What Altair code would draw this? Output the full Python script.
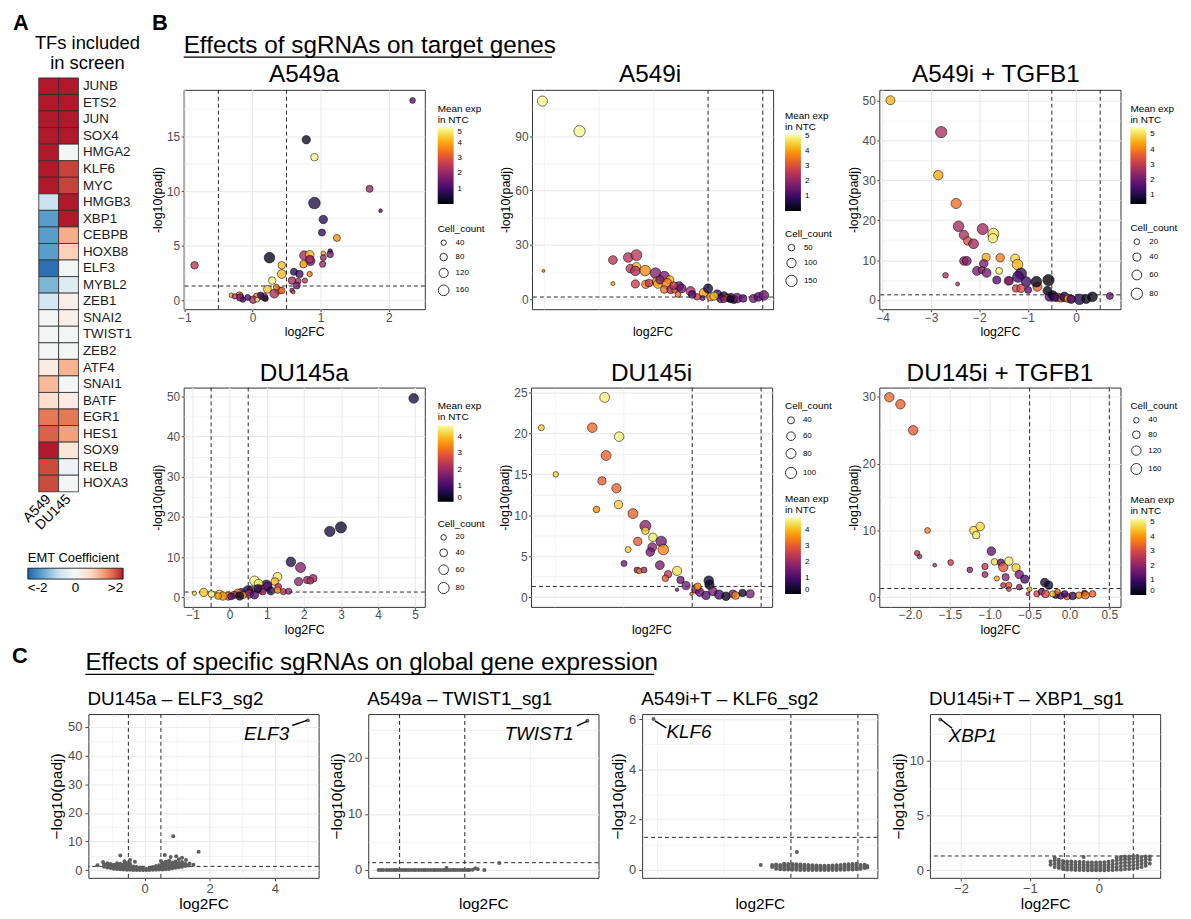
import json
import altair as alt
import pandas as pd

DEBUG = False
FONT = "Liberation Sans"
AX_TXT = "#4D4D4D"
GRID = "#EBEBEB"
DASH = [4, 3]

# ---------------- Panel A data ----------------
tf_genes = ["JUNB", "ETS2", "JUN", "SOX4", "HMGA2", "KLF6", "MYC", "HMGB3", "XBP1", "CEBPB",
            "HOXB8", "ELF3", "MYBL2", "ZEB1", "SNAI2", "TWIST1", "ZEB2", "ATF4", "SNAI1", "BATF",
            "EGR1", "HES1", "SOX9", "RELB", "HOXA3"]
emt_a549 = [2, 2, 2, 2, 2, 2, 2, -0.7, -1.45, -1.45, -1.45, -1.9, -1.2, -0.6, -0.05, -0.05, -0.05,
            0.25, 0.95, 0.55, 1.45, 1.6, 2.0, 1.75, 1.75]
emt_du145 = [2, 2, 2, 2, -0.05, 1.8, 1.8, 2, 2, 1.05, 0.75, -0.05, -0.45, 0.2, 0.2, -0.05, -0.05,
             1.0, -0.05, 0.25, 1.45, 1.15, 0.4, -0.2, -0.05]
cell_lines = ["A549", "DU145"]
emt_stops = [-2, -1.333, -0.667, 0, 0.667, 1.333, 2]
emt_colors = ["#2166AC", "#67A9CF", "#D1E5F0", "#F7F7F7", "#FDDBC7", "#EF8A62", "#B2182B"]

# ---------------- Panel B data (log2FC, -log10 padj, mean exp in NTC, cell count) ----------------
a549a = [(2.35, 18.3, 1.3, 45), (0.79, 14.7, 0.3, 100), (0.91, 13.1, 4.9, 80), (1.72, 10.2, 2.0, 70),
         (1.88, 8.2, 1.2, 20), (0.91, 8.9, 0.6, 190), (1.04, 7.4, 0.7, 100), (1.02, 6.2, 0.8, 70),
         (1.24, 5.7, 3.8, 70), (1.14, 4.5, 1.0, 30), (1.14, 4.2, 1.6, 65), (1.04, 4.3, 4.0, 30),
         (1.04, 3.9, 2.0, 50), (1.03, 3.3, 2.0, 55), (0.76, 4.1, 2.2, 120), (0.84, 4.15, 4.2, 110),
         (0.85, 3.6, 1.5, 120), (0.84, 3.75, 2.3, 90), (0.75, 3.3, 3.8, 80), (-0.85, 3.2, 2.5, 80),
         (0.25, 3.9, 0.2, 160), (0.43, 3.2, 4.3, 80), (0.43, 2.4, 4.2, 110), (0.61, 2.6, 0.7, 70),
         (0.69, 2.4, 1.0, 80), (0.84, 2.4, 3.5, 40), (0.67, 1.75, 2.3, 50), (0.58, 1.8, 2.2, 80),
         (0.77, 1.8, 2.5, 40), (0.65, 1.35, 1.5, 70), (0.58, 0.9, 1.8, 30), (0.60, 0.75, 3.0, 20),
         (0.29, 1.8, 4.8, 80), (0.22, 1.0, 4.3, 90), (0.39, 0.9, 3.5, 80), (0.32, 0.6, 2.2, 110),
         (0.43, 0.9, 3.3, 60), (0.07, 0.3, 3.6, 90), (0.17, 0.3, 1.8, 80), (0.01, 0.05, 2.3, 80),
         (-0.07, 0.25, 1.0, 50), (-0.19, 0.45, 3.3, 70), (-0.18, 0.25, 1.5, 80), (-0.31, 0.45, 4.0, 30),
         (-0.26, 0.35, 2.5, 40), (0.12, 0.45, 1.0, 60), (0.07, 0.05, 5.0, 30), (0.19, 0.15, 0.5, 50),
         (0.35, 1.2, 3.5, 50), (-0.14, 0.05, 1.2, 40)]
a549i = [(-3.53, 109.3, 5.0, 120), (-2.85, 92.7, 5.0, 150), (-3.51, 15.7, 3.6, 10), (-2.24, 21.7, 2.5, 90),
         (-2.24, 8.7, 4.0, 20), (-1.96, 23.1, 2.4, 110), (-1.81, 24.4, 2.5, 140), (-1.92, 17.0, 2.5, 90),
         (-1.81, 18.1, 4.3, 80), (-1.83, 15.7, 2.3, 110), (-1.65, 15.9, 3.8, 130), (-1.83, 8.5, 2.7, 80),
         (-1.64, 8.3, 3.6, 80), (-1.46, 14.5, 1.8, 130), (-1.30, 12.7, 1.7, 120), (-1.44, 9.9, 3.7, 90),
         (-1.42, 8.5, 4.2, 90), (-1.20, 10.8, 4.2, 80), (-1.25, 8.7, 3.6, 120), (-1.30, 5.4, 3.5, 70),
         (-1.18, 5.4, 2.2, 80), (-1.11, 5.1, 3.3, 40), (-1.03, 7.2, 1.3, 100), (-0.98, 6.0, 1.5, 90),
         (-1.05, 2.7, 3.4, 40), (-0.82, 4.5, 2.2, 100), (-0.70, 1.4, 2.8, 50), (-0.58, 3.6, 4.0, 90),
         (-0.50, 6.0, 0.5, 100), (-0.45, 1.4, 3.8, 80), (-0.60, 0.7, 1.5, 30), (-0.33, 2.7, 1.0, 100),
         (-0.21, 1.8, 0.5, 90), (-0.27, 0.5, 1.3, 80), (-0.12, 0.9, 1.1, 70), (-0.03, 0.0, 0.2, 80),
         (0.03, 0.7, 1.5, 110), (0.14, 0.5, 1.3, 70), (0.33, 0.5, 1.6, 80), (0.42, 1.4, 1.2, 90),
         (0.52, 2.2, 1.5, 110), (-0.16, 0.9, 3.7, 40), (-0.39, 1.8, 4.4, 80), (-0.21, 0.0, 2.0, 50),
         (-0.08, 1.4, 1.6, 60), (-0.09, 0.1, 0.3, 60), (-0.79, 2.7, 1.2, 70), (-1.58, 9.0, 2.6, 70),
         (-1.38, 10.8, 1.9, 80), (-1.13, 7.6, 2.6, 70)]
a549it = [(-3.84, 50.1, 4.6, 50), (-2.79, 42.1, 2.7, 80), (-2.85, 31.3, 4.5, 55), (-2.48, 24.2, 3.8, 65),
          (-2.43, 18.5, 2.6, 70), (-2.32, 16.3, 2.7, 55), (-2.24, 14.8, 3.4, 45), (-2.12, 14.1, 2.6, 60),
          (-1.93, 17.8, 2.6, 75), (-1.71, 16.6, 5.0, 75), (-1.72, 15.5, 5.3, 55), (-2.32, 9.8, 2.5, 45),
          (-2.26, 9.8, 2.2, 50), (-1.86, 10.7, 4.5, 40), (-1.57, 10.6, 4.0, 45), (-1.91, 9.1, 2.1, 45),
          (-2.05, 7.3, 2.0, 50), (-1.95, 7.5, 2.5, 30), (-1.85, 6.8, 2.0, 50), (-1.59, 7.3, 5.2, 30),
          (-1.64, 5.0, 1.6, 40), (-2.70, 6.2, 2.8, 20), (-2.45, 4.0, 2.8, 10), (-1.40, 4.8, 3.2, 45),
          (-1.38, 4.8, 2.0, 40), (-1.26, 10.4, 4.9, 50), (-1.21, 8.9, 4.6, 70), (-1.14, 6.6, 1.2, 80),
          (-1.20, 5.8, 1.4, 75), (-1.03, 4.6, 1.4, 60), (-1.24, 2.9, 3.2, 35), (-1.14, 2.9, 3.3, 40),
          (-0.99, 2.5, 1.7, 30), (-0.80, 3.3, 3.6, 50), (-0.82, 4.6, 0.6, 70), (-0.57, 5.0, 0.4, 80),
          (-0.59, 2.3, 0.5, 50), (-0.55, 0.8, 1.5, 50), (-0.48, 1.2, 0.6, 50), (-0.38, 0.7, 3.0, 45),
          (-0.31, 0.5, 3.5, 40), (-0.24, 0.8, 1.0, 55), (-0.17, 0.3, 4.4, 35), (-0.09, 0.3, 3.8, 30),
          (0.07, 0.17, 1.0, 70), (0.21, 0.25, 0.6, 50), (0.34, 0.8, 0.6, 60), (0.70, 1.0, 1.8, 30),
          (-0.10, 0.2, 1.4, 45), (-0.44, 0.7, 1.2, 45)]
du145a = [(4.96, 49.5, 0.5, 60), (3.0, 17.4, 0.4, 80), (2.7, 16.4, 0.5, 70), (1.65, 8.8, 0.6, 60),
          (1.91, 7.4, 1.7, 65), (1.86, 3.9, 1.8, 45), (2.09, 4.3, 2.0, 35), (2.25, 4.7, 2.0, 40),
          (2.17, 4.1, 2.2, 30), (1.29, 5.1, 4.4, 50), (1.22, 3.9, 4.0, 40), (1.31, 2.6, 2.3, 30),
          (0.99, 3.0, 0.5, 70), (1.02, 2.6, 1.3, 50), (0.67, 4.1, 4.6, 60), (0.78, 3.4, 4.5, 50),
          (0.83, 2.0, 2.0, 45), (0.58, 1.8, 2.3, 45), (0.49, 1.6, 0.5, 70), (0.31, 1.1, 1.0, 50),
          (0.22, 1.0, 3.5, 45), (0.12, 0.6, 2.0, 35), (-0.04, 0.3, 3.0, 45), (-0.27, 0.8, 4.3, 40),
          (-0.49, 0.8, 4.5, 30), (-0.70, 1.2, 4.1, 45), (-0.95, 1.0, 4.3, 12), (-0.18, 0.3, 3.7, 45),
          (0.04, 0.2, 1.2, 30), (0.53, 0.8, 2.0, 45), (0.67, 0.6, 1.0, 45), (1.45, 1.4, 2.3, 25),
          (1.59, 1.5, 1.8, 25), (1.11, 1.6, 0.6, 45), (0.89, 1.4, 2.0, 30), (0.36, 0.5, 4.0, 30),
          (0.27, 0.3, 0.3, 45), (-0.31, 0.3, 3.8, 30), (0.76, 2.2, 0.6, 40), (1.29, 1.8, 3.5, 30)]
du145i = [(-1.77, 24.4, 4.6, 80), (-2.69, 20.7, 4.2, 30), (-1.95, 20.7, 3.2, 75), (-1.56, 19.6, 4.6, 75),
          (-1.75, 17.3, 3.1, 80), (-2.48, 15.0, 4.2, 25), (-1.81, 14.2, 3.0, 55), (-1.60, 13.3, 3.1, 70),
          (-1.57, 11.3, 4.2, 55), (-1.89, 10.7, 3.6, 35), (-1.36, 10.2, 3.1, 80), (-1.18, 8.7, 1.8, 100),
          (-1.18, 8.1, 4.3, 45), (-1.07, 7.3, 4.5, 60), (-0.95, 6.8, 1.5, 90), (-1.08, 6.1, 1.8, 65),
          (-0.92, 5.8, 3.5, 90), (-1.29, 6.8, 3.0, 55), (-1.43, 5.8, 4.2, 30), (-1.11, 5.5, 1.5, 60),
          (-1.49, 4.1, 1.5, 30), (-1.30, 3.3, 1.8, 30), (-1.27, 3.2, 3.5, 25), (-1.20, 3.3, 2.0, 30),
          (-0.97, 3.9, 1.6, 65), (-0.85, 2.8, 2.4, 45), (-0.72, 3.2, 4.4, 70), (-0.89, 2.3, 3.0, 35),
          (-0.67, 2.1, 1.4, 45), (-0.59, 1.4, 1.5, 55), (-0.72, 0.9, 1.4, 10), (-0.44, 1.0, 1.6, 70),
          (-0.26, 2.0, 0.4, 75), (-0.25, 1.5, 0.3, 70), (-0.39, 0.6, 1.4, 60), (-0.20, 0.7, 1.6, 60),
          (-0.11, 0.3, 1.0, 70), (-0.01, 0.1, 0.2, 60), (0.09, 0.4, 1.5, 50), (0.13, 0.2, 3.5, 50),
          (0.34, 0.4, 1.6, 55), (0.23, 0.5, 0.3, 45), (-0.51, 0.4, 3.2, 10), (-0.30, 0.2, 1.2, 55),
          (-0.42, 1.3, 3.8, 40)]
du145it = [(-2.26, 29.95, 3.5, 120), (-2.12, 28.9, 3.4, 120), (-1.96, 25.0, 3.3, 120), (-1.78, 10.0, 3.8, 45),
           (-1.20, 10.0, 4.8, 90), (-1.12, 10.6, 4.7, 100), (-1.17, 9.3, 5.0, 80), (-1.91, 6.6, 2.6, 40),
           (-1.88, 6.1, 2.2, 30), (-1.69, 4.8, 2.5, 20), (-1.49, 5.2, 2.8, 45), (-1.25, 4.1, 2.0, 45),
           (-1.06, 4.6, 2.7, 55), (-1.06, 3.4, 2.3, 50), (-0.98, 6.9, 1.5, 100), (-0.94, 5.3, 4.8, 60),
           (-0.86, 5.2, 1.3, 70), (-0.83, 4.5, 3.2, 120), (-0.76, 5.4, 5.0, 90), (-0.67, 4.4, 4.6, 90),
           (-0.63, 3.4, 1.7, 100), (-0.56, 2.7, 1.1, 90), (-0.80, 3.0, 2.0, 70), (-0.91, 2.8, 4.2, 35),
           (-0.83, 1.8, 2.5, 40), (-0.76, 1.8, 3.2, 50), (-0.76, 1.2, 2.8, 30), (-0.63, 1.5, 2.0, 45),
           (-0.50, 1.2, 4.5, 30), (-0.52, 0.5, 2.5, 20), (-0.31, 2.2, 0.5, 100), (-0.26, 1.8, 0.4, 90),
           (-0.41, 0.5, 3.0, 50), (-0.35, 0.8, 1.5, 60), (-0.30, 0.5, 2.9, 80), (-0.17, 0.35, 0.5, 70),
           (-0.11, 0.2, 1.2, 60), (-0.03, 0.1, 3.2, 60), (0.04, 0.2, 0.8, 80), (0.12, 0.3, 3.8, 60),
           (0.19, 0.6, 0.4, 50), (0.20, 0.3, 3.7, 80), (0.29, 0.5, 3.3, 60), (-0.21, 0.5, 4.6, 50),
           (-0.06, 0.5, 1.0, 60), (-0.15, 0.8, 3.6, 45)]

# ---------------- Panel C data (log2FC, -log10 padj) ----------------
c1_pts = [(5.02, 52.3), (0.88, 11.8), (1.66, 6.4), (-0.75, 5.1), (0.62, 5.3), (0.80, 4.6), (0.97, 4.8),
          (1.15, 4.3), (1.27, 3.5), (-0.45, 3.5), (-0.62, 3.1), (-1.28, 2.8), (-1.45, 1.7), (1.38, 2.3),
          (1.50, 1.9), (-0.30, 2.9), (0.50, 3.2), (1.05, 3.8),
          (-1.25, 1.2), (-1.25, 2.0), (-1.15, 0.9), (-1.15, 1.7), (-1.15, 2.4), (-1.05, 0.7), (-1.05, 1.4),
          (-1.05, 2.1), (-0.95, 0.5), (-0.95, 1.2), (-0.95, 1.9), (-0.85, 0.4), (-0.85, 1.0), (-0.85, 1.7),
          (-0.85, 2.4), (-0.75, 0.3), (-0.75, 0.9), (-0.75, 1.5), (-0.75, 2.2), (-0.65, 0.2), (-0.65, 0.7),
          (-0.65, 1.3), (-0.65, 2.0), (-0.55, 0.1), (-0.55, 0.6), (-0.55, 1.2), (-0.55, 1.8), (-0.55, 2.5),
          (-0.45, 0.1), (-0.45, 0.5), (-0.45, 1.0), (-0.45, 1.6), (-0.45, 2.2), (-0.35, 0.0), (-0.35, 0.4),
          (-0.35, 0.9), (-0.35, 1.3), (-0.25, 0.0), (-0.25, 0.3), (-0.25, 0.7), (-0.25, 1.1), (-0.15, 0.0),
          (-0.15, 0.3), (-0.15, 0.6), (-0.15, 0.9), (-0.05, 0.0), (-0.05, 0.2), (-0.05, 0.5), (0.05, 0.0),
          (0.05, 0.2), (0.05, 0.5), (0.15, 0.0), (0.15, 0.3), (0.15, 0.6), (0.25, 0.1), (0.25, 0.4),
          (0.25, 0.8), (0.25, 1.1), (0.35, 0.1), (0.35, 0.5), (0.35, 0.9), (0.35, 1.4), (0.45, 0.2),
          (0.45, 0.6), (0.45, 1.1), (0.45, 1.7), (0.55, 0.2), (0.55, 0.7), (0.55, 1.3), (0.55, 1.9),
          (0.55, 2.5), (0.65, 0.3), (0.65, 0.9), (0.65, 1.5), (0.65, 2.2), (0.65, 2.9), (0.75, 0.4),
          (0.75, 1.0), (0.75, 1.7), (0.75, 2.5), (0.75, 3.3), (0.85, 0.6), (0.85, 1.2), (0.85, 1.9),
          (0.85, 2.7), (0.95, 0.8), (0.95, 1.5), (0.95, 2.2), (0.95, 3.0), (1.05, 1.0), (1.05, 1.7),
          (1.05, 2.5), (1.15, 1.2), (1.15, 2.0), (1.15, 2.8), (1.25, 1.4), (1.25, 2.2), (1.35, 1.6)]
c2_pts = [(2.38, 26.6), (1.03, 1.25), (0.22, 0.35), (0.66, 0.3), (0.70, 0.15), (0.80, 0.0), (0.62, 0.05),
          (-0.82, 0.0), (-0.78, 0.0), (-0.75, 0.0), (-0.70, 0.0), (-0.66, 0.0), (-0.62, 0.0), (-0.58, 0.0),
          (-0.55, 0.0), (-0.51, 0.0), (-0.47, 0.0), (-0.43, 0.0), (-0.40, 0.0), (-0.36, 0.0), (-0.32, 0.0),
          (-0.28, 0.0), (-0.25, 0.0), (-0.21, 0.0), (-0.17, 0.0), (-0.13, 0.0), (-0.10, 0.0), (-0.06, 0.0),
          (-0.02, 0.0), (0.02, 0.0), (0.05, 0.0), (0.09, 0.0), (0.13, 0.0), (0.17, 0.0), (0.20, 0.0),
          (0.24, 0.0), (0.28, 0.0), (0.32, 0.0), (0.35, 0.0), (0.39, 0.0), (0.43, 0.0), (0.47, 0.0),
          (0.50, 0.0), (0.54, 0.0), (0.57, 0.0)]
c3_pts = [(-2.55, 6.0), (-0.95, 0.2), (-0.41, 0.72),
          (-0.78, 0.12), (-0.78, 0.2), (-0.72, 0.05), (-0.72, 0.14), (-0.72, 0.22), (-0.66, 0.03),
          (-0.66, 0.12), (-0.66, 0.2), (-0.60, 0.02), (-0.60, 0.1), (-0.60, 0.18), (-0.60, 0.25),
          (-0.54, 0.02), (-0.54, 0.1), (-0.54, 0.18), (-0.54, 0.24), (-0.48, 0.01), (-0.48, 0.09),
          (-0.48, 0.17), (-0.48, 0.24), (-0.42, 0.01), (-0.42, 0.08), (-0.42, 0.16), (-0.42, 0.23),
          (-0.36, 0.0), (-0.36, 0.08), (-0.36, 0.15), (-0.36, 0.22), (-0.30, 0.0), (-0.30, 0.07),
          (-0.30, 0.14), (-0.30, 0.21), (-0.24, 0.0), (-0.24, 0.06), (-0.24, 0.13), (-0.24, 0.2),
          (-0.18, 0.0), (-0.18, 0.06), (-0.18, 0.12), (-0.18, 0.19), (-0.12, 0.0), (-0.12, 0.05),
          (-0.12, 0.11), (-0.12, 0.18), (-0.06, 0.0), (-0.06, 0.05), (-0.06, 0.11), (-0.06, 0.17),
          (0.0, 0.0), (0.0, 0.05), (0.0, 0.1), (0.0, 0.17), (0.06, 0.0), (0.06, 0.05), (0.06, 0.11),
          (0.06, 0.17), (0.12, 0.0), (0.12, 0.06), (0.12, 0.12), (0.12, 0.18), (0.18, 0.0), (0.18, 0.06),
          (0.18, 0.12), (0.18, 0.19), (0.24, 0.01), (0.24, 0.07), (0.24, 0.13), (0.24, 0.2), (0.30, 0.01),
          (0.30, 0.08), (0.30, 0.15), (0.30, 0.22), (0.36, 0.02), (0.36, 0.09), (0.36, 0.16), (0.36, 0.23),
          (0.42, 0.02), (0.42, 0.1), (0.42, 0.17), (0.42, 0.24), (0.48, 0.03), (0.48, 0.1), (0.48, 0.18),
          (0.48, 0.25), (0.54, 0.05), (0.54, 0.12), (0.54, 0.2), (0.60, 0.08), (0.60, 0.15), (0.60, 0.21),
          (0.64, 0.1), (0.64, 0.16)]
c4_pts = [(-2.30, 13.8), (-0.70, 0.5), (-0.70, 0.8), (-0.64, 0.3), (-0.64, 0.6), (-0.64, 0.9), (-0.64, 1.15),
          (-0.58, 0.2), (-0.58, 0.45), (-0.58, 0.7), (-0.58, 0.95), (-0.52, 0.1), (-0.52, 0.35), (-0.52, 0.6),
          (-0.52, 0.85), (-0.46, 0.05), (-0.46, 0.3), (-0.46, 0.55), (-0.46, 0.8), (-0.40, 0.05), (-0.40, 0.3),
          (-0.40, 0.55), (-0.40, 0.8), (-0.34, 0.02), (-0.34, 0.25), (-0.34, 0.5), (-0.34, 0.75), (-0.28, 0.02),
          (-0.28, 0.25), (-0.28, 0.5), (-0.28, 0.75), (-0.22, 0.02), (-0.22, 0.25), (-0.22, 0.5), (-0.22, 0.75),
          (-0.22, 1.2), (-0.16, 0.0), (-0.16, 0.22), (-0.16, 0.45), (-0.16, 0.7), (-0.10, 0.0), (-0.10, 0.2),
          (-0.10, 0.45), (-0.10, 0.7), (-0.04, 0.0), (-0.04, 0.2), (-0.04, 0.45), (-0.04, 0.7), (0.02, 0.0),
          (0.02, 0.2), (0.02, 0.45), (0.02, 0.7), (0.08, 0.0), (0.08, 0.22), (0.08, 0.45), (0.08, 0.72),
          (0.14, 0.02), (0.14, 0.25), (0.14, 0.5), (0.14, 0.78), (0.20, 0.02), (0.20, 0.28), (0.20, 0.55),
          (0.20, 0.85), (0.26, 0.05), (0.26, 0.3), (0.26, 0.6), (0.26, 0.9), (0.26, 1.15), (0.32, 0.05),
          (0.32, 0.35), (0.32, 0.65), (0.32, 0.95), (0.32, 1.2), (0.38, 0.1), (0.38, 0.4), (0.38, 0.7),
          (0.38, 1.0), (0.38, 1.25), (0.44, 0.1), (0.44, 0.4), (0.44, 0.7), (0.44, 1.0), (0.44, 1.25),
          (0.50, 0.15), (0.50, 0.45), (0.50, 0.75), (0.50, 1.05), (0.50, 1.3), (0.56, 0.2), (0.56, 0.5),
          (0.56, 0.8), (0.56, 1.1), (0.56, 1.3), (0.62, 0.3), (0.62, 0.6), (0.62, 0.9), (0.62, 1.2),
          (0.68, 0.4), (0.68, 0.7), (0.68, 1.0), (0.68, 1.25), (0.74, 0.6), (0.74, 0.95), (0.74, 1.25)]

# gene labels: (text, label x, label y, seg start x, seg start y, seg end x, seg end y)
c1_lab = ("ELF3", 3.75, 47.4, 4.54, 50.5, 4.99, 52.3)
c2_lab = ("TWIST1", 1.64, 24.2, 2.22, 25.7, 2.37, 26.5)
c3_lab = ("KLF6", -2.02, 5.5, -2.53, 5.93, -2.36, 5.65)
c4_lab = ("XBP1", -1.83, 12.3, -2.29, 13.8, -2.13, 13.0)


def one():
    return pd.DataFrame({"k": [0]})


def box_layer(x1, x2, y1, y2):
    if DEBUG:
        m = alt.Chart(one()).mark_rect(fillOpacity=0, stroke="red", strokeWidth=1, strokeOpacity=0.7)
    else:
        m = alt.Chart(one()).mark_rect(opacity=0)
    return m.encode(x=alt.value(x1), x2=alt.value(x2), y=alt.value(y1), y2=alt.value(y2))


def text_layer(txt, x, y, size, align="left", weight="normal", style="normal", baseline="alphabetic"):
    return alt.Chart(one()).mark_text(
        text=txt, font=FONT, fontSize=size, align=align, baseline=baseline,
        fontWeight=weight, fontStyle=style, color="black").encode(x=alt.value(x), y=alt.value(y))


def uline_layer(x1, x2, y):
    return alt.Chart(one()).mark_rule(color="black", strokeWidth=1.3).encode(
        x=alt.value(x1), x2=alt.value(x2), y=alt.value(y))


def mk_axis(title, major, minor, fmt, lsize, tsize, tick, lpad, tpad):
    vals = sorted(major + minor)
    test = "indexof(%s, datum.value) < 0" % json.dumps(major)
    return alt.Axis(
        title=title, values=vals, format=fmt,
        labelExpr="(%s) ? '' : datum.label" % test,
        grid=True, gridColor=GRID,
        gridWidth={"condition": {"test": test, "value": 0.6}, "value": 1.2},
        tickOpacity={"condition": {"test": test, "value": 0}, "value": 1},
        tickSize=tick, tickColor="#333333", tickWidth=0.9, domain=False,
        labelFont=FONT, labelFontSize=lsize, labelColor=AX_TXT, labelPadding=lpad,
        titleFont=FONT, titleFontSize=tsize, titleFontWeight="normal", titleColor="black",
        titlePadding=tpad, labelFlush=False, labelOverlap=False, labelBound=False)


FRAME = alt.ViewBackground(stroke="#333333", strokeWidth=1)
NOFRAME = alt.ViewBackground(stroke="transparent")


def bplot(pts, xd, yd, xmaj, xmin, ymaj, ymin, xfmt, cdom, cvals, smax, amax, svals,
          fpos, spos, box, title=None):
    df = pd.DataFrame(pts, columns=["log2FC", "nlp", "exp", "cnt"])
    xs = alt.Scale(domain=xd, nice=False, zero=False)
    ys = alt.Scale(domain=yd, nice=False, zero=False)
    X = alt.X("log2FC:Q", scale=xs, axis=mk_axis("log2FC", xmaj, xmin, xfmt, 12, 12.5, 2.5, 0.5, 3))
    Y = alt.Y("nlp:Q", scale=ys, axis=mk_axis("-log10(padj)", ymaj, ymin, "d", 12, 12.5, 2.5, 1.5, 2))
    vl = alt.Chart(pd.DataFrame({"log2FC": [-0.5, 0.5]})).mark_rule(
        strokeDash=DASH, color="#111111", strokeWidth=0.9).encode(x=X)
    hl = alt.Chart(pd.DataFrame({"nlp": [1.3]})).mark_rule(
        strokeDash=DASH, color="#111111", strokeWidth=0.9).encode(y=Y)
    fill_leg = alt.Legend(
        title=["Mean exp", "in NTC"], orient="none", legendX=fpos[0], legendY=fpos[1],
        direction="vertical", gradientLength=77, gradientThickness=16, values=cvals,
        labelFont=FONT, labelFontSize=8, labelColor="black", labelOffset=4, labelOverlap=False,
        labelBaseline="middle", titleFont=FONT, titleFontSize=10, titleFontWeight="normal",
        titleColor="black", titleLineHeight=11, titlePadding=3, gradientStrokeWidth=0)
    size_leg = alt.Legend(
        title="Cell_count", orient="none", legendX=spos[0], legendY=spos[1], values=svals,
        symbolType="circle", symbolFillColor="white", symbolStrokeColor="black",
        symbolStrokeWidth=0.8, symbolOpacity=1, labelFont=FONT, labelFontSize=8, labelColor="black",
        labelOffset=6, rowPadding=4, titleFont=FONT, titleFontSize=10, titleFontWeight="normal",
        titleColor="black", titlePadding=5)
    pts_l = alt.Chart(df).mark_circle(
        stroke="black", strokeWidth=0.6, fillOpacity=0.78, strokeOpacity=0.9).encode(
        x=X, y=Y,
        fill=alt.Fill("exp:Q", scale=alt.Scale(scheme="inferno", domain=cdom, nice=False, zero=False),
                      legend=fill_leg),
        size=alt.Size("cnt:Q", scale=alt.Scale(domain=[0, smax], range=[0, amax]), legend=size_leg))
    layers = [vl, hl, pts_l, box_layer(*box)]
    if title:
        layers.append(text_layer(title, 121.5, -7, 24.5, align="center"))
    return alt.layer(*layers).properties(width=243, height=221, view=FRAME)


def cplot(pts, lab, xd, yd, xmaj, xmin, ymaj, ymin, title, box, width):
    df = pd.DataFrame(pts, columns=["log2FC", "nlp"])
    xs = alt.Scale(domain=xd, nice=False, zero=False)
    ys = alt.Scale(domain=yd, nice=False, zero=False)
    X = alt.X("log2FC:Q", scale=xs, axis=mk_axis("log2FC", xmaj, xmin, "d", 13, 15.5, 3, 2, 1))
    Y = alt.Y("nlp:Q", scale=ys, axis=mk_axis("\u2212log10(padj)", ymaj, ymin, "d", 13, 15.5, 3.5, 3, 3))
    vl = alt.Chart(pd.DataFrame({"log2FC": [-0.5, 0.5]})).mark_rule(
        strokeDash=DASH, color="#111111", strokeWidth=0.9).encode(x=X)
    hl = alt.Chart(pd.DataFrame({"nlp": [1.3]})).mark_rule(
        strokeDash=DASH, color="#111111", strokeWidth=0.9).encode(y=Y)
    dots = alt.Chart(df).mark_circle(color="#5E5E5E", opacity=1, size=16).encode(x=X, y=Y)
    seg_df = pd.DataFrame({"log2FC": [lab[3]], "nlp": [lab[4]], "fc_end": [lab[5]], "p_end": [lab[6]]})
    seg = alt.Chart(seg_df).mark_rule(color="black", strokeWidth=1.5).encode(
        x=X, y=Y, x2="fc_end:Q", y2="p_end:Q")
    lab_df = pd.DataFrame({"log2FC": [lab[1]], "nlp": [lab[2]], "gene": [lab[0]]})
    txt = alt.Chart(lab_df).mark_text(font=FONT, fontSize=19, fontStyle="italic", color="black",
                                      align="center", baseline="middle").encode(x=X, y=Y, text="gene:N")
    ttl = text_layer(title, -1, -9, 19)
    return alt.layer(vl, hl, dots, seg, txt, ttl, box_layer(*box)).properties(
        width=width, height=165, view=FRAME)


# ---------------- Panel A chart ----------------
heat_df = pd.DataFrame({
    "gene": tf_genes + tf_genes,
    "line": [cell_lines[0]] * len(tf_genes) + [cell_lines[1]] * len(tf_genes),
    "coef": emt_a549 + emt_du145,
})
heat = alt.Chart(heat_df).mark_rect(stroke="#2b2b2b", strokeWidth=0.8).encode(
    x=alt.X("line:N", sort=cell_lines, scale=alt.Scale(paddingInner=0, paddingOuter=0),
            axis=alt.Axis(title=None, labelAngle=315, labelAlign="right", labelBaseline="middle",
                          ticks=False, domain=False, labelFont=FONT, labelFontSize=14,
                          labelColor="black", labelPadding=5)),
    y=alt.Y("gene:N", sort=tf_genes, scale=alt.Scale(paddingInner=0, paddingOuter=0),
            axis=alt.Axis(title=None, orient="right", ticks=False, domain=False, labelFont=FONT,
                          labelFontSize=13.5, labelColor="#1a1a1a", labelPadding=4)),
    color=alt.Color("coef:Q", scale=alt.Scale(domain=emt_stops, range=emt_colors, clamp=True),
                    legend=alt.Legend(
                        title="EMT Coefficient", orient="none", legendX=-11, legendY=478,
                        direction="horizontal", gradientLength=96, gradientThickness=11,
                        values=[-2, 0, 2],
                        labelExpr="datum.value <= -2 ? '<-2' : (datum.value >= 2 ? '>2' : datum.label)",
                        labelFont=FONT, labelFontSize=13.5, labelColor="black", labelAlign="center",
                        labelOffset=2, labelOverlap=False, titleFont=FONT, titleFontSize=13,
                        titleFontWeight="normal", titleColor="black", titlePadding=3,
                        gradientStrokeColor="black", gradientStrokeWidth=0.8)))
acol = alt.layer(
    heat,
    text_layer("A", -26, -48, 22, weight="bold"),
    text_layer("TFs included", 49, -29, 18.5, align="center"),
    text_layer("in screen", 49, -9, 18.5, align="center"),
    box_layer(-30, 108, -66, 562),
).properties(width=40, height=417, view=NOFRAME)

# ---------------- Panel B charts ----------------
bsp = alt.layer(
    text_layer("B", -32, -48, 22, weight="bold"),
    text_layer("Effects of sgRNAs on target genes", 0, -25, 24.5),
    uline_layer(0, 371, -21),
    text_layer("A549a", 121.5, 4, 24.5, align="center"),
    text_layer("A549i", 470, 4, 24.5, align="center"),
    text_layer("A549i + TGFB1", 818.5, 4, 24.5, align="center"),
    box_layer(-36, 1000, -66, 9),
).properties(width=1, height=1, view=NOFRAME)

b1 = bplot(a549a, [-1.01, 2.53], [-0.82, 19.27], [-1, 0, 1, 2], [-0.5, 0.5, 1.5, 2.5],
           [0, 5, 10, 15], [2.5, 7.5, 12.5, 17.5], "d", [0, 5.0], [1, 2, 3, 4, 5],
           160, 115, [40, 80, 120, 160], (256, 14), (256, 135), (-36, 315, -1, 262))
b2 = bplot(a549i, [-3.72, 0.69], [-5.4, 115.5], [-3, -2, -1, 0], [-3.5, -2.5, -1.5, -0.5, 0.5],
           [0, 30, 60, 90], [15, 45, 75, 105], "d", [0, 5.1], [1, 2, 3, 4, 5],
           150, 130, [50, 100, 150], (255, 21), (255, 140), (-34, 314, -1, 262))
b3 = bplot(a549it, [-4.07, 0.92], [-2.3, 52.7], [-4, -3, -2, -1, 0], [-3.5, -2.5, -1.5, -0.5, 0.5],
           [0, 10, 20, 30, 40, 50], [5, 15, 25, 35, 45], "d", [0.4, 5.46], [1, 2, 3, 4, 5],
           80, 130, [20, 40, 60, 80], (253, 14), (253, 134), (-34, 303, -1, 262))
b4 = bplot(du145a, [-1.24, 5.26], [-2.4, 52.2], [-1, 0, 1, 2, 3, 4, 5], [-0.5, 0.5, 1.5, 2.5, 3.5, 4.5],
           [0, 10, 20, 30, 40, 50], [5, 15, 25, 35, 45], "d", [0, 4.75], [0, 1, 2, 3, 4],
           80, 125, [20, 40, 60, 80], (256, 14), (256, 132), (-36, 315, -36, 254), title="DU145a")
b5 = bplot(du145i, [-2.84, 0.66], [-1.2, 25.6], [-2, -1, 0], [-2.5, -1.5, -0.5, 0.5],
           [0, 5, 10, 15, 20, 25], [2.5, 7.5, 12.5, 17.5, 22.5], "d", [0, 4.8], [0, 1, 2, 3, 4],
           100, 125, [40, 60, 80, 100], (256, 107), (256, 14), (-33, 315, -36, 254), title="DU145i")
b6 = bplot(du145it, [-2.385, 0.64], [-1.45, 31.4], [-2, -1.5, -1, -0.5, 0, 0.5],
           [-2.25, -1.75, -1.25, -0.75, -0.25, 0.25], [0, 10, 20, 30], [5, 15, 25], ".1f",
           [0, 5.27], [0, 1, 2, 3, 4, 5], 160, 120, [40, 80, 120, 160], (253, 108), (253, 14),
           (-34, 303, -36, 254), title="DU145i + TGFB1")

# ---------------- Panel C charts ----------------
csp = alt.layer(
    text_layer("C", -27, 22, 22, weight="bold"),
    text_layer("Effects of specific sgRNAs on global gene expression", 47, 29, 24.4),
    uline_layer(47, 620, 33),
    box_layer(-30, 1144, 0, 36),
).properties(width=1, height=1, view=NOFRAME)
cpad = box_layer(0, 2, 0, 1).properties(width=1, height=1, view=NOFRAME)

c1 = cplot(c1_pts, c1_lab, [-1.73, 5.35], [-2.7, 54.5], [0, 2, 4], [-1, 1, 3, 5],
           [0, 10, 20, 30, 40, 50], [5, 15, 25, 35, 45], "DU145a \u2013 ELF3_sg2", (-46, 236, -35, 200), 232)
c2 = cplot(c2_pts, c2_lab, [-0.98, 2.55], [-1.4, 27.8], [0, 1, 2], [-0.5, 0.5, 1.5, 2.5],
           [0, 10, 20], [5, 15, 25], "A549a \u2013 TWIST1_sg1", (-44, 238, -35, 200), 232)
c3 = cplot(c3_pts, c3_lab, [-2.72, 0.79], [-0.31, 6.2], [-2, -1, 0], [-2.5, -1.5, -0.5, 0.5],
           [0, 2, 4, 6], [1, 3, 5], "A549i+T \u2013 KLF6_sg2", (-36, 246, -35, 200), 237)
c4 = cplot(c4_pts, c4_lab, [-2.45, 0.89], [-0.7, 14.3], [-2, -1, 0], [-1.5, -0.5, 0.5],
           [0, 5, 10], [2.5, 7.5, 12.5], "DU145i+T \u2013 XBP1_sg1", (-42, 254, -35, 200), 232)

IND = dict(color="independent", fill="independent", size="independent")

brow1 = alt.hconcat(b1, b2, b3, spacing=0).resolve_scale(**IND)
brow2 = alt.hconcat(b4, b5, b6, spacing=0).resolve_scale(**IND)
bgrid = alt.vconcat(bsp, brow1, brow2, spacing=0).resolve_scale(**IND)
toprow = alt.hconcat(acol, bgrid, spacing=0).resolve_scale(**IND)
crow = alt.hconcat(cpad, c1, c2, c3, c4, spacing=0).resolve_scale(**IND)
cblock = alt.vconcat(csp, crow, spacing=0).resolve_scale(**IND)
chart = alt.vconcat(toprow, cblock, spacing=0).resolve_scale(**IND).properties(
    padding=0, background="white"
).configure(font=FONT).configure_view(stroke="transparent")

chart.save("out.html", embed_options={"renderer": "svg", "actions": False})
